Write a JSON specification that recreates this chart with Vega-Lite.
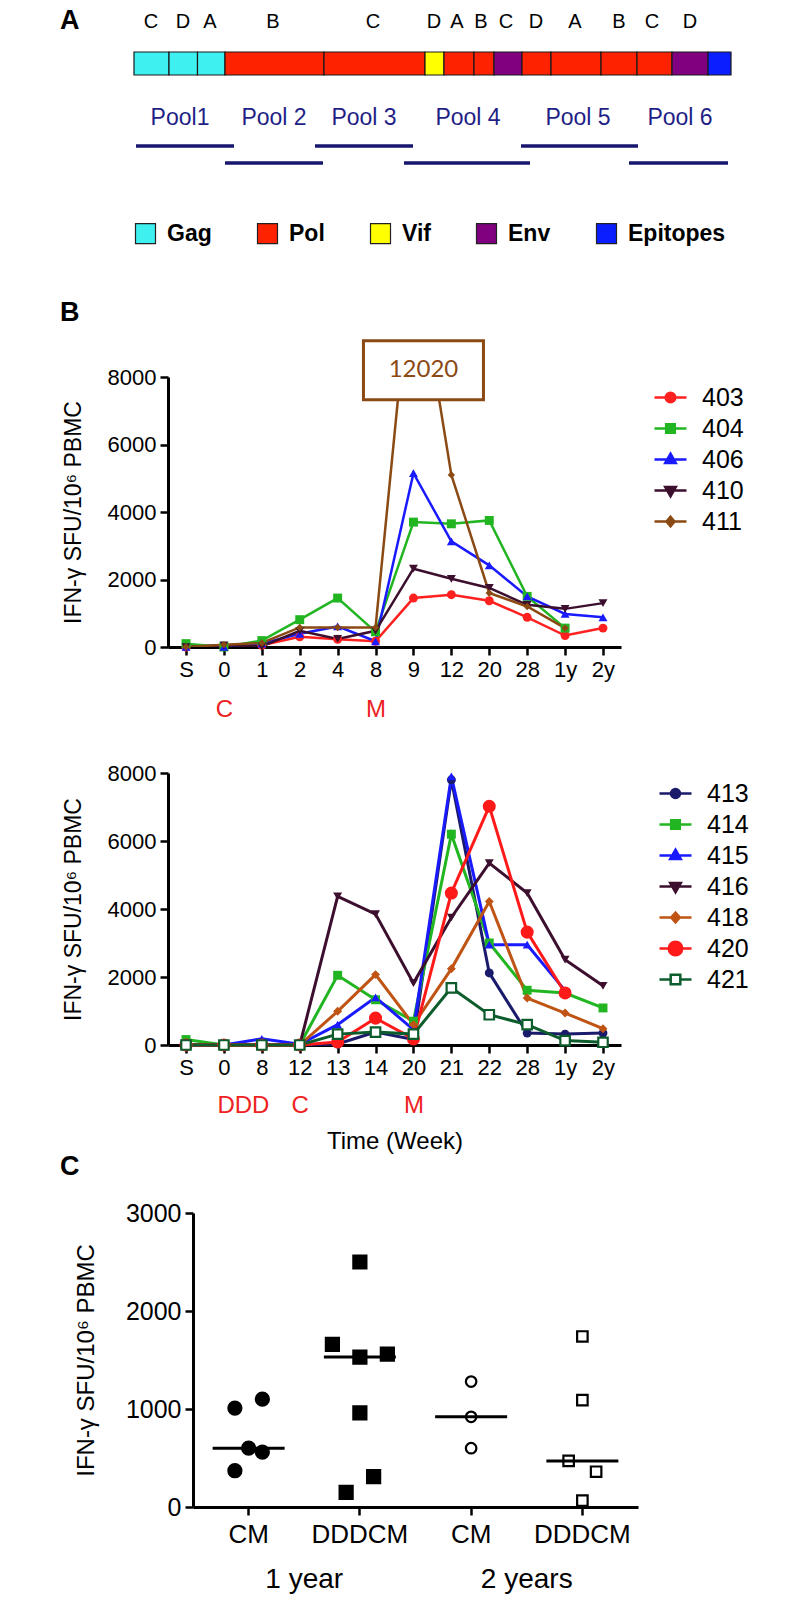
{
  "$schema": "https://vega.github.io/schema/vega-lite/v6.json",
  "background": "white",
  "padding": {"left": 60, "top": 0, "right": 5, "bottom": 5},
  "config": {
    "font": "Liberation Sans",
    "view": {"stroke": null},
    "axis": {"grid": false, "domainColor": "black", "domainWidth": 3, "tickColor": "black", "tickWidth": 2.5, "tickSize": 8, "labelColor": "black", "labelFontSize": 22, "labelFont": "Liberation Sans", "titleFont": "Liberation Sans", "titleColor": "black", "titleFontWeight": "normal", "titleFontSize": 23, "labelPadding": 4},
    "title": {"font": "Liberation Sans", "fontWeight": "bold", "fontSize": 27, "color": "black", "anchor": "start"},
    "legend": {"labelFont": "Liberation Sans", "labelColor": "black"}
  },
  "spacing": 0,
  "resolve": {"scale": {"color": "independent", "shape": "independent", "x": "independent", "y": "independent"}, "legend": {"color": "independent", "shape": "independent"}},
  "vconcat": [
    {
      "width": 600,
      "height": 298,
      "layer": [
        {
          "data": {"values": [
            {"protein": "Gag", "letter": "C", "start": 0, "end": 35, "mid": 17},
            {"protein": "Gag", "letter": "D", "start": 35, "end": 63.5, "mid": 49},
            {"protein": "Gag", "letter": "A", "start": 63.5, "end": 91, "mid": 76},
            {"protein": "Pol", "letter": "B", "start": 91, "end": 190, "mid": 139},
            {"protein": "Pol", "letter": "C", "start": 190, "end": 291, "mid": 239},
            {"protein": "Vif", "letter": "D", "start": 291, "end": 310, "mid": 300},
            {"protein": "Pol", "letter": "A", "start": 310, "end": 340, "mid": 323},
            {"protein": "Pol", "letter": "B", "start": 340, "end": 360, "mid": 347},
            {"protein": "Env", "letter": "C", "start": 360, "end": 388, "mid": 372},
            {"protein": "Pol", "letter": "D", "start": 388, "end": 417, "mid": 402},
            {"protein": "Pol", "letter": "A", "start": 417, "end": 467, "mid": 441},
            {"protein": "Pol", "letter": "B", "start": 467, "end": 503, "mid": 485},
            {"protein": "Pol", "letter": "C", "start": 503, "end": 538, "mid": 518},
            {"protein": "Env", "letter": "D", "start": 538, "end": 574, "mid": 556},
            {"protein": "Epitopes", "letter": "", "start": 574, "end": 597, "mid": 585.5}
          ]},
          "layer": [
            {
              "mark": {"type": "rect", "stroke": "#1a1a1a", "strokeWidth": 1.2},
              "encoding": {
                "x": {"field": "start", "type": "quantitative", "scale": {"domain": [0, 600], "nice": false, "zero": false}, "axis": null},
                "x2": {"field": "end"},
                "y": {"datum": 52, "type": "quantitative", "scale": {"domain": [0, 298], "reverse": true, "nice": false, "zero": false}, "axis": null},
                "y2": {"datum": 75},
                "color": {
                  "field": "protein", "type": "nominal",
                  "scale": {"domain": ["Gag", "Pol", "Vif", "Env", "Epitopes"], "range": ["#3ff0f0", "#ff2200", "#ffff00", "#800080", "#0a1eff"]},
                  "legend": {"orient": "none", "legendX": 0, "legendY": 222, "direction": "horizontal", "columns": 5, "title": null, "symbolType": "square", "symbolSize": 400, "symbolStrokeColor": "#222222", "symbolStrokeWidth": 1.2, "symbolOpacity": 1, "labelFontSize": 23, "labelFontWeight": "bold", "labelOffset": 10, "columnPadding": 43, "padding": 0}
                }
              }
            },
            {
              "transform": [{"filter": "datum.letter !== ''"}],
              "mark": {"type": "text", "fontSize": 20, "baseline": "middle", "color": "black"},
              "encoding": {
                "x": {"field": "mid", "type": "quantitative"},
                "y": {"datum": 22, "type": "quantitative"},
                "text": {"field": "letter"}
              }
            }
          ]
        },
        {
          "data": {"values": [
            {"pool": "Pool1", "mid": 46, "start": 2, "end": 100, "lvl": 146},
            {"pool": "Pool 2", "mid": 140, "start": 91, "end": 189, "lvl": 163},
            {"pool": "Pool 3", "mid": 230, "start": 181, "end": 279, "lvl": 146},
            {"pool": "Pool 4", "mid": 334, "start": 270, "end": 396, "lvl": 163},
            {"pool": "Pool 5", "mid": 444, "start": 387, "end": 504, "lvl": 146},
            {"pool": "Pool 6", "mid": 546, "start": 495, "end": 594, "lvl": 163}
          ]},
          "layer": [
            {
              "mark": {"type": "rule", "strokeWidth": 3.5, "color": "#16166e"},
              "encoding": {
                "x": {"field": "start", "type": "quantitative"},
                "x2": {"field": "end"},
                "y": {"field": "lvl", "type": "quantitative"}
              }
            },
            {
              "mark": {"type": "text", "fontSize": 23, "color": "#1f1f86", "baseline": "middle"},
              "encoding": {
                "x": {"field": "mid", "type": "quantitative"},
                "y": {"datum": 118, "type": "quantitative"},
                "text": {"field": "pool"}
              }
            }
          ]
        },
        {
          "data": {"values": [{"panel": "A"}]},
          "mark": {"type": "text", "fontSize": 27, "fontWeight": "bold", "align": "left", "baseline": "middle", "color": "black"},
          "encoding": {
            "x": {"datum": -74, "type": "quantitative"},
            "y": {"datum": 21, "type": "quantitative"},
            "text": {"field": "panel"}
          }
        }
      ]
    },
    {
      "spacing": 41,
      "resolve": {"scale": {"color": "independent", "shape": "independent", "x": "independent", "y": "independent"}, "legend": {"color": "independent", "shape": "independent"}},
      "vconcat": [
        {
          "title": {"text": "B", "frame": "group", "anchor": "start", "dx": -74, "offset": 8},
          "width": 487,
          "height": 270,
          "data": {"values": [
            {"a": "403", "t": "S", "v": 0}, {"a": "403", "t": "0", "v": 20}, {"a": "403", "t": "1", "v": 50}, {"a": "403", "t": "2", "v": 300}, {"a": "403", "t": "4", "v": 230}, {"a": "403", "t": "8", "v": 170}, {"a": "403", "t": "9", "v": 1450}, {"a": "403", "t": "12", "v": 1550}, {"a": "403", "t": "20", "v": 1370}, {"a": "403", "t": "28", "v": 880}, {"a": "403", "t": "1y", "v": 340}, {"a": "403", "t": "2y", "v": 560},
            {"a": "404", "t": "S", "v": 100}, {"a": "404", "t": "0", "v": 0}, {"a": "404", "t": "1", "v": 190}, {"a": "404", "t": "2", "v": 810}, {"a": "404", "t": "4", "v": 1450}, {"a": "404", "t": "8", "v": 450}, {"a": "404", "t": "9", "v": 3700}, {"a": "404", "t": "12", "v": 3650}, {"a": "404", "t": "20", "v": 3750}, {"a": "404", "t": "28", "v": 1500}, {"a": "404", "t": "1y", "v": 560},
            {"a": "406", "t": "S", "v": 0}, {"a": "406", "t": "0", "v": 0}, {"a": "406", "t": "1", "v": 100}, {"a": "406", "t": "2", "v": 390}, {"a": "406", "t": "4", "v": 610}, {"a": "406", "t": "8", "v": 170}, {"a": "406", "t": "9", "v": 5150}, {"a": "406", "t": "12", "v": 3130}, {"a": "406", "t": "20", "v": 2420}, {"a": "406", "t": "28", "v": 1500}, {"a": "406", "t": "1y", "v": 980}, {"a": "406", "t": "2y", "v": 880},
            {"a": "410", "t": "S", "v": 0}, {"a": "410", "t": "0", "v": 50}, {"a": "410", "t": "1", "v": 20}, {"a": "410", "t": "2", "v": 480}, {"a": "410", "t": "4", "v": 240}, {"a": "410", "t": "8", "v": 480}, {"a": "410", "t": "9", "v": 2320}, {"a": "410", "t": "12", "v": 2020}, {"a": "410", "t": "20", "v": 1750}, {"a": "410", "t": "28", "v": 1250}, {"a": "410", "t": "1y", "v": 1130}, {"a": "410", "t": "2y", "v": 1300},
            {"a": "411", "t": "S", "v": 0}, {"a": "411", "t": "0", "v": 70}, {"a": "411", "t": "1", "v": 120}, {"a": "411", "t": "2", "v": 580}, {"a": "411", "t": "4", "v": 580}, {"a": "411", "t": "8", "v": 580}, {"a": "411", "t": "9", "v": 12020}, {"a": "411", "t": "12", "v": 5100}, {"a": "411", "t": "20", "v": 1600}, {"a": "411", "t": "28", "v": 1200}, {"a": "411", "t": "1y", "v": 560}
          ]},
          "layer": [
            {
              "mark": {"type": "line", "clip": true, "strokeWidth": 2.5},
              "encoding": {
                "x": {"field": "t", "type": "ordinal", "scale": {"type": "point", "padding": 0.475, "range": [34, 487], "domain": ["S", "0", "1", "2", "4", "8", "9", "12", "20", "28", "1y", "2y"]}, "axis": {"title": null, "labelAngle": 0}},
                "y": {"field": "v", "type": "quantitative", "scale": {"domain": [0, 8000]}, "axis": {"offset": -34, "values": [0, 2000, 4000, 6000, 8000], "format": "d", "title": "IFN-γ SFU/10⁶ PBMC", "titlePadding": 22}},
                "color": {
                  "field": "a", "type": "nominal",
                  "scale": {"domain": ["403", "404", "406", "410", "411"], "range": ["#ff2020", "#22b522", "#1a1aff", "#3d0f2f", "#8b4a14"]},
                  "legend": {
                    "title": null, "orient": "right", "offset": 29, "padding": 3, "symbolSize": 1024, "labelFontSize": 25, "labelOffset": 14, "rowPadding": 0, "symbolStrokeWidth": 2.5,
                    "encode": {"symbols": {"update": {
                      "shape": {"signal": "datum.value==='403' ? 'M-1,0H1M0.3,0A0.3,0.3,0,1,1,-0.3,0A0.3,0.3,0,1,1,0.3,0Z' : datum.value==='404' ? 'M-1,0H1M-0.27,-0.27H0.27V0.27H-0.27Z' : datum.value==='406' ? 'M-1,0H1M0,-0.36L0.33,0.22H-0.33Z' : datum.value==='410' ? 'M-1,0H1M0,0.36L0.33,-0.22H-0.33Z' : 'M-1,0H1M0,-0.3L0.25,0L0,0.3L-0.25,0Z'"},
                      "fill": {"signal": "datum.value==='403' ? '#ff2020' : datum.value==='404' ? '#22b522' : datum.value==='406' ? '#1a1aff' : datum.value==='410' ? '#3d0f2f' : '#8b4a14'"},
                      "stroke": {"signal": "datum.value==='403' ? '#ff2020' : datum.value==='404' ? '#22b522' : datum.value==='406' ? '#1a1aff' : datum.value==='410' ? '#3d0f2f' : '#8b4a14'"},
                      "strokeWidth": {"value": 2.5},
                      "size": {"value": 1024},
                      "opacity": {"value": 1}
                    }}}
                  }
                }
              }
            },
            {
              "transform": [{"filter": "datum.v <= 8000"}],
              "mark": {"type": "point", "filled": true, "opacity": 1},
              "encoding": {
                "x": {"field": "t", "type": "ordinal", "axis": {"orient": "bottom", "title": null, "domain": false, "ticks": false, "tickSize": 0, "labelPadding": 50, "labelFontSize": 24, "labelColor": "#ee2222", "labelAngle": 0, "labelExpr": "datum.label === '0' ? 'C' : datum.label === '8' ? 'M' : ''"}},
                "y": {"field": "v", "type": "quantitative"},
                "color": {"field": "a", "type": "nominal"},
                "shape": {"condition": [{"test": "datum.a === '404'", "value": "square"}, {"test": "datum.a === '406'", "value": "triangle-up"}, {"test": "datum.a === '410'", "value": "triangle-down"}, {"test": "datum.a === '411'", "value": "diamond"}], "value": "circle"},
                "size": {"condition": {"test": "datum.a === '411'", "value": 55}, "value": 80}
              }
            },
            {
              "data": {"values": [{"t": "9", "v": 8200, "label": "12020"}]},
              "mark": {"type": "point", "shape": "M-1,-0.49H1V0.49H-1Z", "size": 14400, "filled": true, "fill": "white", "stroke": "#8b4a14", "strokeWidth": 3, "opacity": 1, "xOffset": 10},
              "encoding": {
                "x": {"field": "t", "type": "ordinal", "axis": null},
                "y": {"field": "v", "type": "quantitative"}
              }
            },
            {
              "data": {"values": [{"t": "9", "v": 8200, "label": "12020"}]},
              "mark": {"type": "text", "font": "Lato", "fontSize": 24, "color": "#8b4a14", "xOffset": 10, "baseline": "middle"},
              "encoding": {
                "x": {"field": "t", "type": "ordinal", "axis": null},
                "y": {"field": "v", "type": "quantitative"},
                "text": {"field": "label"}
              }
            }
          ],
          "resolve": {"axis": {"x": "independent"}}
        },
        {
          "width": 487,
          "height": 272,
          "data": {"values": [
            {"a": "413", "t": "S", "v": 0}, {"a": "413", "t": "0", "v": 0}, {"a": "413", "t": "8", "v": 0}, {"a": "413", "t": "12", "v": 0}, {"a": "413", "t": "13", "v": 30}, {"a": "413", "t": "14", "v": 380}, {"a": "413", "t": "20", "v": 160}, {"a": "413", "t": "21", "v": 7800}, {"a": "413", "t": "22", "v": 2120}, {"a": "413", "t": "28", "v": 350}, {"a": "413", "t": "1y", "v": 320}, {"a": "413", "t": "2y", "v": 350},
            {"a": "414", "t": "S", "v": 160}, {"a": "414", "t": "0", "v": 0}, {"a": "414", "t": "8", "v": 0}, {"a": "414", "t": "12", "v": 0}, {"a": "414", "t": "13", "v": 2050}, {"a": "414", "t": "14", "v": 1330}, {"a": "414", "t": "20", "v": 700}, {"a": "414", "t": "21", "v": 6200}, {"a": "414", "t": "22", "v": 3000}, {"a": "414", "t": "28", "v": 1610}, {"a": "414", "t": "1y", "v": 1530}, {"a": "414", "t": "2y", "v": 1090},
            {"a": "415", "t": "S", "v": 0}, {"a": "415", "t": "0", "v": 0}, {"a": "415", "t": "8", "v": 180}, {"a": "415", "t": "12", "v": 20}, {"a": "415", "t": "13", "v": 600}, {"a": "415", "t": "14", "v": 1400}, {"a": "415", "t": "20", "v": 450}, {"a": "415", "t": "21", "v": 7900}, {"a": "415", "t": "22", "v": 2950}, {"a": "415", "t": "28", "v": 2950}, {"a": "415", "t": "1y", "v": 1600},
            {"a": "416", "t": "S", "v": 0}, {"a": "416", "t": "0", "v": 0}, {"a": "416", "t": "8", "v": 0}, {"a": "416", "t": "12", "v": 0}, {"a": "416", "t": "13", "v": 4370}, {"a": "416", "t": "14", "v": 3850}, {"a": "416", "t": "20", "v": 1820}, {"a": "416", "t": "21", "v": 3750}, {"a": "416", "t": "22", "v": 5350}, {"a": "416", "t": "28", "v": 4470}, {"a": "416", "t": "1y", "v": 2510}, {"a": "416", "t": "2y", "v": 1740},
            {"a": "418", "t": "S", "v": 0}, {"a": "418", "t": "0", "v": 0}, {"a": "418", "t": "8", "v": 0}, {"a": "418", "t": "12", "v": 0}, {"a": "418", "t": "13", "v": 990}, {"a": "418", "t": "14", "v": 2070}, {"a": "418", "t": "20", "v": 600}, {"a": "418", "t": "21", "v": 2240}, {"a": "418", "t": "22", "v": 4220}, {"a": "418", "t": "28", "v": 1380}, {"a": "418", "t": "1y", "v": 940}, {"a": "418", "t": "2y", "v": 480},
            {"a": "420", "t": "S", "v": 0}, {"a": "420", "t": "0", "v": 0}, {"a": "420", "t": "8", "v": 0}, {"a": "420", "t": "12", "v": 0}, {"a": "420", "t": "13", "v": 90}, {"a": "420", "t": "14", "v": 790}, {"a": "420", "t": "20", "v": 180}, {"a": "420", "t": "21", "v": 4470}, {"a": "420", "t": "22", "v": 7020}, {"a": "420", "t": "28", "v": 3320}, {"a": "420", "t": "1y", "v": 1530},
            {"a": "421", "t": "S", "v": 0}, {"a": "421", "t": "0", "v": 0}, {"a": "421", "t": "8", "v": 0}, {"a": "421", "t": "12", "v": 0}, {"a": "421", "t": "13", "v": 320}, {"a": "421", "t": "14", "v": 380}, {"a": "421", "t": "20", "v": 320}, {"a": "421", "t": "21", "v": 1680}, {"a": "421", "t": "22", "v": 890}, {"a": "421", "t": "28", "v": 600}, {"a": "421", "t": "1y", "v": 130}, {"a": "421", "t": "2y", "v": 80}
          ]},
          "layer": [
            {
              "mark": {"type": "line", "strokeWidth": 3},
              "encoding": {
                "x": {"field": "t", "type": "ordinal", "scale": {"type": "point", "padding": 0.475, "range": [34, 487], "domain": ["S", "0", "8", "12", "13", "14", "20", "21", "22", "28", "1y", "2y"]}, "axis": {"title": null, "labelAngle": 0}},
                "y": {"field": "v", "type": "quantitative", "scale": {"domain": [0, 8000]}, "axis": {"offset": -34, "values": [0, 2000, 4000, 6000, 8000], "format": "d", "title": "IFN-γ SFU/10⁶ PBMC", "titlePadding": 22}},
                "color": {
                  "field": "a", "type": "nominal",
                  "scale": {"domain": ["413", "414", "415", "416", "418", "420", "421"], "range": ["#1b1b6b", "#22b522", "#1a1aff", "#3d0f2f", "#c05414", "#ff1a1a", "#0d5c2c"]},
                  "legend": {
                    "title": null, "orient": "right", "offset": 34, "padding": 3, "symbolSize": 1024, "labelFontSize": 25, "labelOffset": 14, "rowPadding": 0, "symbolStrokeWidth": 2.5,
                    "encode": {"symbols": {"update": {
                      "shape": {"signal": "datum.value==='413' ? 'M-1,0H1M0.28,0A0.28,0.28,0,1,1,-0.28,0A0.28,0.28,0,1,1,0.28,0Z' : datum.value==='414' ? 'M-1,0H1M-0.27,-0.27H0.27V0.27H-0.27Z' : datum.value==='415' ? 'M-1,0H1M0,-0.36L0.33,0.22H-0.33Z' : datum.value==='416' ? 'M-1,0H1M0,0.36L0.33,-0.22H-0.33Z' : datum.value==='418' ? 'M-1,0H1M0,-0.3L0.27,0L0,0.3L-0.27,0Z' : datum.value==='420' ? 'M-1,0H1M0.42,0A0.42,0.42,0,1,1,-0.42,0A0.42,0.42,0,1,1,0.42,0Z' : 'M-1,0H-0.3M0.3,0H1M-0.3,-0.3H0.3V0.3H-0.3ZM-0.3,-0.3V0.3H0.3V-0.3Z'"},
                      "fill": {"signal": "datum.value==='413' ? '#1b1b6b' : datum.value==='414' ? '#22b522' : datum.value==='415' ? '#1a1aff' : datum.value==='416' ? '#3d0f2f' : datum.value==='418' ? '#c05414' : datum.value==='420' ? '#ff1a1a' : 'white'"},
                      "stroke": {"signal": "datum.value==='413' ? '#1b1b6b' : datum.value==='414' ? '#22b522' : datum.value==='415' ? '#1a1aff' : datum.value==='416' ? '#3d0f2f' : datum.value==='418' ? '#c05414' : datum.value==='420' ? '#ff1a1a' : '#0d5c2c'"},
                      "strokeWidth": {"value": 2.5},
                      "size": {"value": 1024},
                      "opacity": {"value": 1}
                    }}}
                  }
                }
              }
            },
            {
              "transform": [{"filter": "datum.a !== '421'"}],
              "mark": {"type": "point", "filled": true, "opacity": 1},
              "encoding": {
                "x": {"field": "t", "type": "ordinal", "axis": {"orient": "bottom", "title": "Time (Week)", "titleFontSize": 24, "titlePadding": 12, "domain": false, "ticks": false, "tickSize": 0, "labelPadding": 48, "labelFontSize": 24, "labelColor": "#ee2222", "labelAngle": 0, "labelOffset": {"condition": {"test": "datum.value === '0'", "value": 19}, "value": 0}, "labelExpr": "datum.label === '0' ? 'DDD' : datum.label === '12' ? 'C' : datum.label === '20' ? 'M' : ''"}},
                "y": {"field": "v", "type": "quantitative"},
                "color": {"field": "a", "type": "nominal"},
                "shape": {"condition": [{"test": "datum.a === '414'", "value": "square"}, {"test": "datum.a === '415'", "value": "triangle-up"}, {"test": "datum.a === '416'", "value": "triangle-down"}, {"test": "datum.a === '418'", "value": "diamond"}], "value": "circle"},
                "size": {"condition": {"test": "datum.a === '420'", "value": 170}, "value": 80}
              }
            },
            {
              "transform": [{"filter": "datum.a === '421'"}],
              "mark": {"type": "point", "shape": "square", "filled": false, "fill": "white", "strokeWidth": 2.2, "opacity": 1, "size": 90},
              "encoding": {
                "x": {"field": "t", "type": "ordinal", "axis": null},
                "y": {"field": "v", "type": "quantitative"},
                "color": {"field": "a", "type": "nominal"}
              }
            }
          ],
          "resolve": {"axis": {"x": "independent"}}
        }
      ]
    },
    {
      "title": {"text": "C", "frame": "group", "anchor": "start", "dx": -74, "offset": 20},
      "width": 504,
      "height": 294,
      "data": {"values": [
        {"grp": "1 year CM", "v": 1010, "slot": "b"},
        {"grp": "1 year CM", "v": 1100, "slot": "d"},
        {"grp": "1 year CM", "v": 600, "slot": "c"},
        {"grp": "1 year CM", "v": 560, "slot": "d"},
        {"grp": "1 year CM", "v": 370, "slot": "b"},
        {"grp": "1 year DDDCM", "v": 2500, "slot": "c"},
        {"grp": "1 year DDDCM", "v": 1660, "slot": "a"},
        {"grp": "1 year DDDCM", "v": 1530, "slot": "c"},
        {"grp": "1 year DDDCM", "v": 1560, "slot": "e"},
        {"grp": "1 year DDDCM", "v": 960, "slot": "c"},
        {"grp": "1 year DDDCM", "v": 310, "slot": "d"},
        {"grp": "1 year DDDCM", "v": 150, "slot": "b"},
        {"grp": "2 years CM", "v": 1280, "slot": "c"},
        {"grp": "2 years CM", "v": 920, "slot": "c"},
        {"grp": "2 years CM", "v": 600, "slot": "c"},
        {"grp": "2 years DDDCM", "v": 1740, "slot": "c"},
        {"grp": "2 years DDDCM", "v": 1090, "slot": "c"},
        {"grp": "2 years DDDCM", "v": 470, "slot": "b"},
        {"grp": "2 years DDDCM", "v": 360, "slot": "d"},
        {"grp": "2 years DDDCM", "v": 65, "slot": "c"}
      ]},
      "layer": [
        {
          "mark": {"type": "point", "filled": true, "stroke": "black", "strokeWidth": 2.2, "opacity": 1},
          "encoding": {
            "x": {"field": "grp", "type": "nominal", "scale": {"type": "band", "range": [59, 504], "domain": ["1 year CM", "1 year DDDCM", "2 years CM", "2 years DDDCM"], "paddingInner": 0.506, "paddingOuter": 0.253}, "axis": {"title": null, "labelAngle": 0, "labelExpr": "split(datum.label, ' ')[2]", "labelFontSize": 26, "labelPadding": 6}},
            "xOffset": {"field": "slot", "type": "nominal", "scale": {"domain": ["a", "b", "c", "d", "e"], "paddingInner": 0, "paddingOuter": 0}},
            "y": {"field": "v", "type": "quantitative", "scale": {"domain": [0, 3000]}, "axis": {"offset": -59, "values": [0, 1000, 2000, 3000], "format": "d", "title": "IFN-γ SFU/10⁶ PBMC", "titleFontSize": 24, "labelFontSize": 25, "titlePadding": 27}},
            "shape": {"field": "grp", "type": "nominal", "scale": {"domain": ["1 year CM", "1 year DDDCM", "2 years CM", "2 years DDDCM"], "range": ["circle", "square", "circle", "square"]}, "legend": null},
            "fill": {"condition": {"test": "indexof(datum.grp, '2 years') === 0", "value": "white"}, "value": "black"},
            "size": {"condition": {"test": "indexof(datum.grp, '2 years') === 0", "value": 110}, "value": 170}
          }
        },
        {
          "mark": {"type": "tick", "thickness": 3, "size": 72, "color": "black", "opacity": 1},
          "encoding": {
            "x": {"field": "grp", "type": "nominal", "axis": {"orient": "bottom", "title": null, "domain": false, "ticks": false, "tickSize": 0, "labelPadding": 58, "labelFontSize": 28, "labelAngle": 0, "labelOffset": 55.6, "labelExpr": "indexof(datum.label, 'DDDCM') < 0 ? replace(datum.label, ' CM', '') : ''"}},
            "y": {"field": "v", "type": "quantitative", "aggregate": "median"}
          }
        }
      ],
      "resolve": {"axis": {"x": "independent"}}
    }
  ]
}
